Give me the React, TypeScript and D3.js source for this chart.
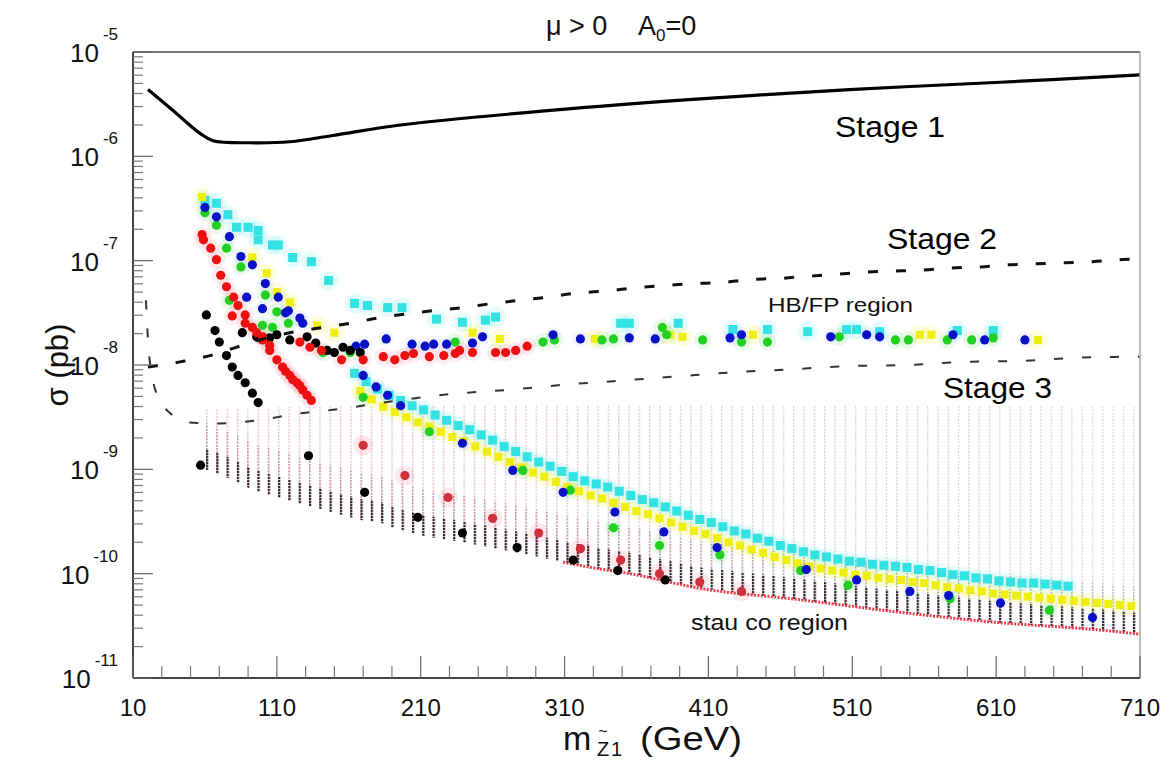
import React from 'react';
import * as d3 from 'd3';

type P = [number, number]; // [neutralino mass (GeV), log10 sigma (pb)]

const xTicks = [10, 110, 210, 310, 410, 510, 610, 710];
const yExponents = [-11, -10, -9, -8, -7, -6, -5];

const stage1: P[] = [[20.4,-5.36],[37.8,-5.56],[56.6,-5.78],[65.6,-5.85],[91,-5.87],[119,-5.86],[149,-5.80],[196,-5.70],[300,-5.56],[404,-5.45],[508,-5.36],[613,-5.29],[710,-5.22]];
const stage2: P[] = [[20.4,-8.02],[42.7,-7.97],[63.5,-7.91],[79.5,-7.84],[98,-7.76],[119,-7.69],[142,-7.64],[161,-7.60],[180,-7.55],[200,-7.51],[218,-7.48],[239,-7.45],[260,-7.41],[279,-7.38],[298,-7.35],[319,-7.31],[340,-7.29],[359,-7.26],[378,-7.24],[399,-7.22],[419,-7.21],[439,-7.18],[460,-7.17],[478,-7.15],[499,-7.13],[519,-7.11],[538,-7.10],[559,-7.09],[578,-7.07],[599,-7.06],[618,-7.04],[638,-7.03],[658,-7.02],[677,-7.01],[698,-6.99],[710,-6.985]];
const stage3: P[] = [[19,-7.38],[20.4,-7.76],[23.2,-8.10],[28.8,-8.34],[35.7,-8.46],[48,-8.55],[70.5,-8.56],[91,-8.54],[128,-8.46],[149,-8.43],[189,-8.35],[230,-8.28],[269,-8.24],[309,-8.19],[349,-8.15],[388,-8.11],[427,-8.07],[469,-8.04],[508,-8.01],[548,-8.00],[587,-7.97],[629,-7.96],[668,-7.93],[710,-7.92]];

// scanned region (dense grid of model points)
const regionLower: P[] = [[60,-9.00],[77.4,-9.09],[89,-9.17],[100.4,-9.23],[124,-9.32],[135,-9.36],[147,-9.41],[170,-9.49],[182,-9.51],[193.5,-9.58],[216.5,-9.65],[239.4,-9.70],[263,-9.76],[286,-9.82],[309,-9.89],[332.5,-9.95],[355.5,-10.00],[404,-10.14],[473.6,-10.25],[543,-10.37],[612.7,-10.47],[682,-10.54],[710,-10.58]];
const regionUpper: P[] = [[60,-8.42],[200,-8.38],[400,-8.38],[710,-8.40]];

const blackPts: P[] = [
  [61,-7.52],[67,-7.67],[70,-7.78],[75,-7.91],[79,-8.02],[83,-8.10],[88,-8.17],[93,-8.27],[97,-8.36],
  [86,-7.69],[96,-7.73],[105,-7.74],[110,-7.71],[119,-7.76],[131,-7.73],[137,-7.79],[145,-7.86],[150,-7.88],[156,-7.83],[161,-7.86],[168,-7.88],
  [57,-8.96],
  [132,-8.87],[171,-9.22],[208,-9.46],[239,-9.61],[277,-9.75],[316,-9.87],[347,-9.97],[380,-10.06]
];
const redPts: P[] = [
  [58,-6.75],[59,-6.80],[64,-6.88],[68,-6.99],[71,-7.14],[75,-7.25],[80,-7.35],[83,-7.43],[79,-7.53],[88,-7.52],[93,-7.64],[96,-7.69],[100,-7.76],[105,-7.86],[110,-7.95],[114,-8.02],[116,-8.06],[119,-8.10],[121,-8.14],[124,-8.17],[126,-8.20],[128,-8.24],[131,-8.29],[134,-8.34],
  [88,-7.60],[100,-7.73],[105,-7.81],[126,-7.78],[133,-7.83],[141,-7.86],[155,-7.95],[170,-7.95],[184,-7.92],[192,-7.95],[199,-7.91],[205,-7.89],[216,-7.92],[226,-7.91],[234,-7.89],[237,-7.86],[246,-7.88],[262,-7.88],[269,-7.88],[276,-7.86],[284,-7.82]
];
const redLowPts: P[] = [[170,-8.77],[199,-9.06],[229,-9.27],[260,-9.47],[292,-9.61],[321,-9.76],[349,-9.87],[376,-10.00],[404,-10.08],[433,-10.17]];
const greenPts: P[] = [
  [60,-6.54],[68,-6.66],[75,-6.88],[85,-7.06],[77,-7.38],[102,-7.33],[110,-7.49],[118,-7.60],[100,-7.62],[107,-7.64],[142,-7.88],[161,-7.88],[170,-8.31],[234,-7.78],
  [295,-7.78],[303,-7.76],[336,-7.76],[344,-7.75],[378,-7.64],[381,-7.71],[406,-7.76],[433,-7.78],[451,-7.78],[501,-7.73],[540,-7.76],[549,-7.76],[576,-7.76],[593,-7.76],[608,-7.74],
  [216,-8.64],[281,-9.01],[314,-9.20],[344,-9.56],[376,-9.73],[418,-9.82],[474,-9.97],[507,-10.11],[578,-10.24],[647,-10.35]
];
const bluePts: P[] = [
  [60,-6.49],[68,-6.58],[77,-6.77],[85,-6.96],[93,-7.04],[102,-7.22],[111,-7.35],[89,-7.35],[100,-7.46],[116,-7.50],[118,-7.48],[126,-7.55],[128,-7.60],
  [165,-7.82],[171,-7.80],[186,-7.75],[204,-7.80],[213,-7.82],[219,-7.80],[228,-7.80],[246,-7.79],[253,-7.73],[302,-7.71],[321,-7.75],[355,-7.74],[373,-7.75],[425,-7.74],[433,-7.71],[495,-7.73],[520,-7.71],[529,-7.73],[580,-7.71],[602,-7.76],[630,-7.76],
  [170,-8.10],[179,-8.21],[187,-8.29],[196,-8.39],[239,-8.75],[274,-9.01],[309,-9.22],[345,-9.41],[379,-9.60],[416,-9.75],[478,-9.96],[513,-10.06],[550,-10.17],[577,-10.21],[613,-10.28],[677,-10.42]
];
const cyanPts: P[] = [
  [60,-6.42],[68,-6.45],[76,-6.56],[82,-6.68],[90,-6.68],[97,-6.71],[97,-6.80],[107,-6.85],[111,-6.85],[121,-6.97],[134,-7.01],[146,-7.19],[164,-7.41],[173,-7.43],[187,-7.45],[197,-7.45],[221,-7.56],[239,-7.59],[255,-7.57],[262,-7.54],
  [349,-7.60],[355,-7.60],[389,-7.60],[427,-7.66],[451,-7.66],[479,-7.68],[506,-7.66],[513,-7.66],[529,-7.68],[583,-7.67],[608,-7.67]
];
const cyanBand: P[] = [[164,-8.08],[172,-8.16],[180,-8.23],[188,-8.29],[196,-8.34],[204,-8.39],[212,-8.43],[220,-8.48],[228,-8.53],[236,-8.58],[244,-8.62],[252,-8.67],[260,-8.72],[268,-8.78],[276,-8.83],[284,-8.88],[292,-8.93],[300,-8.97],[308,-9.02],[316,-9.07],[324,-9.11],[332,-9.14],[340,-9.17],[348,-9.21],[356,-9.25],[364,-9.29],[372,-9.32],[380,-9.36],[388,-9.40],[396,-9.44],[404,-9.48],[412,-9.51],[420,-9.55],[428,-9.59],[436,-9.62],[444,-9.66],[452,-9.69],[460,-9.73],[468,-9.76],[476,-9.79],[484,-9.82],[492,-9.84],[500,-9.86],[508,-9.88],[516,-9.89],[524,-9.91],[532,-9.92],[540,-9.93],[548,-9.94],[556,-9.96],[564,-9.97],[572,-9.99],[580,-10.01],[588,-10.02],[596,-10.04],[604,-10.05],[612,-10.07],[620,-10.08],[628,-10.09],[636,-10.09],[644,-10.10],[652,-10.11],[660,-10.12]];
const yellowPts: P[] = [[58,-6.39],[93,-6.97],[103,-7.12],[110,-7.30],[119,-7.40],[138,-7.62],[150,-7.69],[246,-7.69],[265,-7.75],[331,-7.75],[383,-7.71],[392,-7.73],[441,-7.71],[557,-7.71],[565,-7.71],[639,-7.76]];
const yellowBand: P[] = [[168,-8.25],[176,-8.33],[184,-8.40],[192,-8.45],[200,-8.50],[208,-8.55],[216,-8.59],[224,-8.64],[232,-8.69],[240,-8.73],[248,-8.78],[256,-8.83],[264,-8.88],[272,-8.93],[280,-8.98],[288,-9.03],[296,-9.07],[304,-9.12],[312,-9.17],[320,-9.21],[328,-9.25],[336,-9.28],[344,-9.32],[352,-9.36],[360,-9.40],[368,-9.43],[376,-9.47],[384,-9.51],[392,-9.55],[400,-9.59],[408,-9.62],[416,-9.66],[424,-9.70],[432,-9.73],[440,-9.77],[448,-9.80],[456,-9.84],[464,-9.87],[472,-9.90],[480,-9.93],[488,-9.95],[496,-9.97],[504,-9.99],[512,-10.01],[520,-10.02],[528,-10.04],[536,-10.05],[544,-10.06],[552,-10.08],[560,-10.09],[568,-10.11],[576,-10.13],[584,-10.14],[592,-10.16],[600,-10.17],[608,-10.19],[616,-10.20],[624,-10.21],[632,-10.22],[640,-10.23],[648,-10.24],[656,-10.25],[664,-10.26],[672,-10.27],[680,-10.28],[688,-10.29],[696,-10.30],[704,-10.31]];

const FONT = "'Liberation Sans', Arial, Helvetica, sans-serif";

export default function App() {
  const x = d3.scaleLinear().domain([10, 710]).range([133, 1140]);
  const y = d3.scaleLog().domain([1e-11, 1e-5]).range([678, 52]);
  const X = (p: P) => x(p[0]);
  const Y = (p: P) => y(Math.pow(10, p[1]));

  const mono = d3.line<P>().x(X).y(Y).curve(d3.curveMonotoneX);
  const smooth = d3.line<P>().x(X).y(Y).curve(d3.curveCatmullRom.alpha(0.5));
  const poly = d3.line<P>().x(X).y(Y);

  const shift = (arr: P[], d: number): P[] => arr.map(p => [p[0], p[1] + d] as P);
  const band = (top: P[]) => poly(regionLower.concat(top.slice().reverse())) + 'Z';
  const lightArea = band(regionUpper);
  const midArea = band(shift(regionLower, 0.45));
  const darkArea = band(shift(regionLower, 0.2));
  const redEdge = mono(regionLower.filter(p => p[0] >= 300));

  const minorY: number[] = [];
  for (let e = -11; e < -5; e++) for (let k = 2; k <= 9; k++) minorY.push(k * Math.pow(10, e));
  const minorX = d3.range(10, 711, 20).filter(v => (v - 10) % 100 !== 0);

  const dots = (data: P[], color: string, r = 4.6) =>
    data.map((p, i) => <circle key={i} cx={X(p)} cy={Y(p)} r={r} fill={color} />);
  const squares = (data: P[], color: string, s = 9) =>
    data.map((p, i) => <rect key={i} x={X(p) - s / 2} y={Y(p) - s / 2} width={s} height={s} fill={color} />);
  const halos = (data: P[], color: string, r = 10, o = 0.13) =>
    data.map((p, i) => <circle key={i} cx={X(p)} cy={Y(p)} r={r} fill={color} opacity={o} />);

  return (
    <svg width={1174} height={762} style={{ position: 'absolute', left: 0, top: 0, background: '#fff' }} fontFamily={FONT}>
      <defs>
        <pattern id="hp" patternUnits="userSpaceOnUse" x={0} y={0} width={10.3} height={3.2}>
          <rect x={0} y={0} width={1.4} height={2} fill="#fff" />
        </pattern>
        <pattern id="hpd" patternUnits="userSpaceOnUse" x={0} y={0} width={10.3} height={3}>
          <rect x={0} y={0} width={2.2} height={2.2} fill="#fff" />
        </pattern>
        <linearGradient id="lightGrad" gradientUnits="userSpaceOnUse" x1={133} x2={1140} y1={0} y2={0}>
          <stop offset="0" stopColor="#e2a2b0" />
          <stop offset="0.45" stopColor="#d2b4bd" />
          <stop offset="1" stopColor="#bdd4d8" />
        </linearGradient>
        <linearGradient id="midGrad" gradientUnits="userSpaceOnUse" x1={133} x2={1140} y1={0} y2={0}>
          <stop offset="0" stopColor="#b45a6c" />
          <stop offset="0.5" stopColor="#9a6f7c" />
          <stop offset="1" stopColor="#8c9aa2" />
        </linearGradient>
        <mask id="mLight" maskUnits="userSpaceOnUse" x={0} y={0} width={1174} height={762}>
          <path d={lightArea} fill="url(#hp)" />
        </mask>
        <mask id="mMid" maskUnits="userSpaceOnUse" x={0} y={0} width={1174} height={762}>
          <path d={midArea} fill="url(#hp)" />
        </mask>
        <mask id="mDark" maskUnits="userSpaceOnUse" x={0} y={0} width={1174} height={762}>
          <path d={darkArea} fill="url(#hpd)" />
        </mask>
        <clipPath id="plotClip"><rect x={133} y={52} width={1007} height={626} /></clipPath>
      </defs>

      <rect x={0} y={0} width={1174} height={762} fill="#fff" />

      {/* scanned region hatch */}
      <rect x={133} y={52} width={1007} height={626} fill="url(#lightGrad)" mask="url(#mLight)" opacity={0.7} />
      <rect x={133} y={52} width={1007} height={626} fill="url(#midGrad)" mask="url(#mMid)" opacity={0.6} />
      <rect x={133} y={52} width={1007} height={626} fill="#22161a" mask="url(#mDark)" opacity={0.9} />
      <path d={redEdge || ''} fill="none" stroke="#e8283a" strokeWidth={3} strokeDasharray="2 1.4" opacity={0.9} />

      <g clipPath="url(#plotClip)">
        {/* pale halos */}
        <g>{halos(cyanPts, '#40e8e8')}{halos(cyanBand, '#40e8e8', 9, 0.12)}{halos(yellowBand, '#f0f000', 9, 0.12)}{halos(yellowPts, '#f0f000')}{halos(greenPts, '#30d030', 9, 0.1)}{halos(redPts, '#f04060', 9, 0.09)}{halos(redLowPts, '#f04060', 10, 0.12)}{halos(bluePts, '#6080ff', 8, 0.08)}</g>
        <g>{squares(cyanPts, '#33e2e2')}</g>
        <g>{squares(cyanBand, '#33e2e2')}</g>
        <g>{squares(yellowBand, '#eeee10', 8)}</g>
        <g>{squares(yellowPts, '#eeee10', 8)}</g>
        <g>{dots(greenPts, '#22d022')}</g>
        <g>{dots(bluePts, '#0a12c8')}</g>
        <g>{dots(blackPts, '#000')}</g>
        <g>{dots(redPts, '#ec1010')}</g>
        <g>{dots(redLowPts, '#d0303c')}</g>

        {/* sensitivity curves */}
        <path d={smooth(stage1) || ''} fill="none" stroke="#000" strokeWidth={3.2} />
        <path d={mono(stage2) || ''} fill="none" stroke="#111" strokeWidth={3} strokeDasharray="10 18" />
        <path d={mono(stage3) || ''} fill="none" stroke="#333" strokeWidth={2} strokeDasharray="9 19" />
      </g>

      {/* frame */}
      <line x1={133} y1={52} x2={1140} y2={52} stroke="#777" strokeWidth={2} />
      <line x1={1140} y1={52} x2={1140} y2={678} stroke="#aaa" strokeWidth={1.5} />
      <line x1={133} y1={52} x2={133} y2={678} stroke="#444" strokeWidth={2} />
      <line x1={133} y1={678} x2={1140} y2={678} stroke="#444" strokeWidth={2} />

      {/* y ticks */}
      {yExponents.map(e => (
        <line key={'ym' + e} x1={133} x2={153} y1={y(Math.pow(10, e))} y2={y(Math.pow(10, e))} stroke="#666" strokeWidth={1.2} />
      ))}
      {minorY.map((v, i) => (
        <line key={'yn' + i} x1={133} x2={143} y1={y(v)} y2={y(v)} stroke="#777" strokeWidth={1.2} />
      ))}
      {/* x ticks */}
      {xTicks.map(t => (
        <line key={'xm' + t} x1={x(t)} x2={x(t)} y1={678} y2={656} stroke="#666" strokeWidth={1.2} />
      ))}
      {minorX.map(t => (
        <line key={'xn' + t} x1={x(t)} x2={x(t)} y1={678} y2={666} stroke="#777" strokeWidth={1.2} />
      ))}

      {/* tick labels */}
      {xTicks.map(t => (
        <text key={'xl' + t} x={x(t)} y={716} fontSize={24} textAnchor="middle" fill="#111">{t}</text>
      ))}
      {yExponents.map(e => (
        <text key={'yl' + e} x={118} y={y(Math.pow(10, e)) + 10} fontSize={26} textAnchor="end" fill="#111">
          10<tspan dx={4} dy={-22} fontSize={17}>{'-' + Math.abs(e)}</tspan>
        </text>
      ))}

      {/* titles */}
      <text x={546} y={35} fontSize={27} fill="#111">μ &gt; 0</text>
      <text x={638} y={35} fontSize={27} fill="#111">A<tspan fontSize={17} dy={6}>0</tspan><tspan dy={-6}>=0</tspan></text>
      <text transform="translate(68,365) rotate(-90)" fontSize={31} textAnchor="middle" fill="#111">σ (pb)</text>
      <text x={563} y={750} fontSize={34} fill="#111">m</text>
      <text x={597} y={756} fontSize={20} fill="#111">Z</text>
      <text x={603} y={737} fontSize={16} textAnchor="middle" fill="#111">~</text>
      <text x={611} y={756} fontSize={20} fill="#111">1</text>
      <text x={640} y={750} fontSize={33} fill="#111" textLength={102} lengthAdjust="spacingAndGlyphs">(GeV)</text>

      {/* annotations */}
      <text x={835} y={137} fontSize={30} fill="#000" textLength={110} lengthAdjust="spacingAndGlyphs">Stage 1</text>
      <text x={887} y={249} fontSize={30} fill="#000" textLength={110} lengthAdjust="spacingAndGlyphs">Stage 2</text>
      <text x={943} y={398} fontSize={30} fill="#000" textLength={109} lengthAdjust="spacingAndGlyphs">Stage 3</text>
      <text x={768} y={312} fontSize={21} fill="#111" textLength={145} lengthAdjust="spacingAndGlyphs">HB/FP region</text>
      <text x={691} y={630} fontSize={22} fill="#111" textLength={157} lengthAdjust="spacingAndGlyphs">stau co region</text>
    </svg>
  );
}
